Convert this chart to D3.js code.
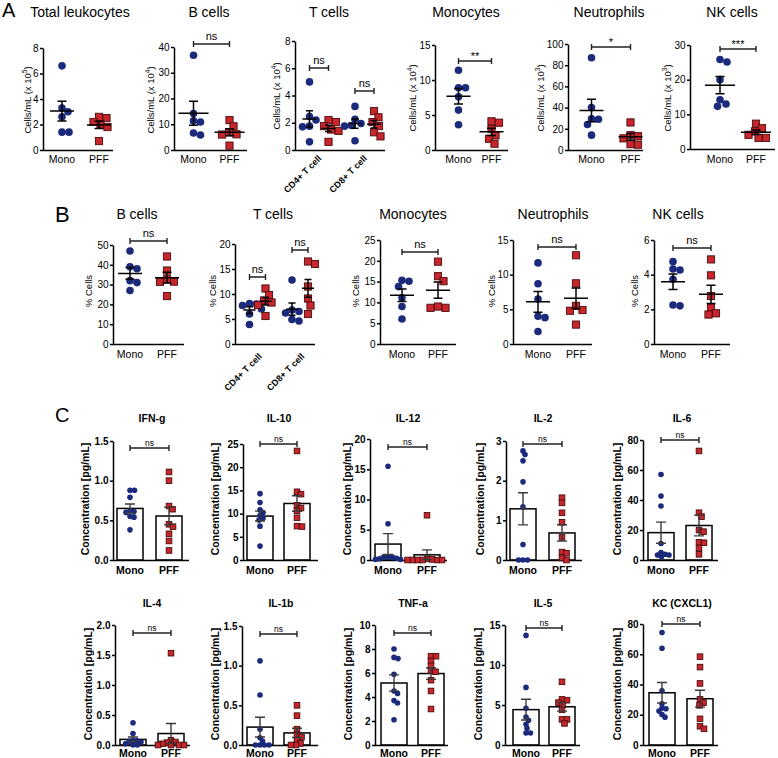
<!DOCTYPE html>
<html><head><meta charset="utf-8">
<script src="https://cdn.jsdelivr.net/npm/d3@7"></script>
<style>body{margin:0;background:#fff}svg{display:block}</style>
</head><body><svg id="c" width="778" height="758"></svg>
<script>
// ---------------- DATA ----------------
const groups = ["Mono", "PFF"];
const cellTypes = ["CD4+ T cell", "CD8+ T cell"];

// Panel A: absolute counts (Cells/mL)
const totalLeuk_Mono = [6.6, 3.3, 3.0, 2.6, 1.4, 1.4];
const totalLeuk_PFF  = [2.6, 2.5, 2.2, 2.0, 1.8, 0.7];
const bAbs_Mono = [36.8, 14.2, 11.3, 10.9, 6.6, 5.8];
const bAbs_PFF  = [11.6, 9.2, 6.9, 6.1, 6.0, 1.7];
const cd4Abs_Mono = [5.0, 2.45, 2.2, 1.75, 1.7, 0.6];
const cd4Abs_PFF  = [2.2, 2.05, 1.75, 1.5, 1.4, 0.6];
const cd8Abs_Mono = [3.2, 2.25, 1.95, 1.8, 1.75, 0.68];
const cd8Abs_PFF  = [2.85, 2.4, 2.05, 1.75, 1.3, 1.0];
const monoAbs_Mono = [11.4, 8.9, 8.9, 7.6, 5.7, 3.6];
const monoAbs_PFF  = [4.1, 3.9, 3.0, 2.1, 1.6, 0.9];
const neutAbs_Mono = [87, 40, 29.5, 29, 24, 14];
const neutAbs_PFF  = [26, 14, 13, 11, 5.5, 5];
const nkAbs_Mono = [25.8, 25.1, 20, 14.2, 13, 12.3];
const nkAbs_PFF  = [7.3, 6.0, 5.1, 4.1, 3.2, 3.2];

// Panel B: % cells
const bPct_Mono = [47, 39, 38, 32, 31, 27];
const bPct_PFF  = [44.2, 37.1, 32.7, 31.5, 31.4, 24.2];
const cd4Pct_Mono = [8.1, 8.0, 7.7, 7.0, 6.0, 3.9];
const cd4Pct_PFF  = [11.1, 9.8, 8.7, 8.3, 7.8, 5.6];
const cd8Pct_Mono = [12.8, 6.8, 6.5, 6.2, 4.9, 4.6];
const cd8Pct_PFF  = [16.5, 16.0, 11.5, 9.1, 7.7, 6.0];
const monoPct_Mono = [15.3, 15.1, 13.8, 11.1, 9.0, 6.0];
const monoPct_PFF  = [19.8, 16.3, 15.1, 9.0, 8.7, 8.7];
const neutPct_Mono = [11.7, 8.7, 6.5, 4.0, 3.8, 1.8];
const neutPct_PFF  = [12.8, 8.75, 5.5, 4.9, 4.8, 2.8];
const nkPct_Mono = [4.75, 4.33, 4.27, 3.73, 2.25, 2.2];
const nkPct_PFF  = [4.88, 3.96, 2.77, 2.1, 1.77, 1.7];

// Panel C: cytokines (pg/mL)
const ifng_Mono = [0.88, 0.88, 0.79, 0.62, 0.61, 0.60, 0.55, 0.54, 0.38];
const ifng_PFF  = [1.11, 1.0, 0.68, 0.64, 0.45, 0.42, 0.33, 0.24, 0.12];
const il10_Mono = [14.3, 12.4, 10.8, 10.2, 9.6, 9.0, 8.6, 7.3, 3.0];
const il10_PFF  = [23.5, 14.7, 14.2, 11.8, 11.2, 10.6, 9.1, 7.3, 7.2];
const il12_Mono = [15.5, 6.0, 0.5, 0.5, 0.5, 0.3, 0.2, 0.1, 0.1];
const il12_PFF  = [7.4, 0.2, 0.1, 0, 0, 0, 0, 0, 0];
const il2_Mono = [2.75, 2.66, 2.5, 1.97, 1.34, 0.39, 0, 0, 0];
const il2_PFF  = [1.57, 1.44, 1.19, 0.95, 0.57, 0.2, 0.17, 0.05, 0];
const il6_Mono = [57, 42.7, 36, 11, 4.9, 3.8, 3.3, 3.3, 2.2];
const il6_PFF  = [72.7, 31.5, 28.9, 20, 18.9, 11.8, 11.5, 8, 3.8];
const il4_Mono = [0.37, 0.19, 0.08, 0.07, 0.06, 0.05, 0.02, 0, 0];
const il4_PFF  = [1.53, 0.08, 0.05, 0.04, 0.02, 0, 0, 0, 0];
const il1b_Mono = [1.06, 0.63, 0.2, 0.09, 0.05, 0, 0, 0, 0];
const il1b_PFF  = [0.5, 0.37, 0.2, 0.12, 0.1, 0.06, 0.02, 0, 0];
const tnfa_Mono = [8.0, 7.3, 7.2, 5.9, 4.5, 4.3, 3.7, 3.5, 2.1];
const tnfa_PFF  = [7.4, 7.4, 7.0, 6.6, 6.2, 6.1, 5.4, 4.5, 3.0];
const il5_Mono = [13.7, 7.2, 4.6, 3.5, 3.1, 2.6, 2.1, 1.5, 1.5];
const il5_PFF  = [7.9, 5.7, 5.6, 5.3, 5.0, 4.4, 3.2, 3.2, 2.7];
const kc_Mono = [74.4, 64, 35.8, 27.3, 24.4, 24.0, 22.4, 20.2, 18.4];
const kc_PFF  = [58.4, 51.5, 40.7, 30.2, 28, 26.2, 17.3, 12.4, 10.7];

// tick label lists
const ticksTotal = [0, 2, 4, 6, 8], ticksBAbs = [0, 10, 20, 30, 40], ticksTAbs = [0, 2, 4, 6, 8];
const ticksMonoAbs = [0, 5, 10, 15], ticksNeutAbs = [0, 20, 40, 60, 80, 100], ticksNkAbs = [0, 10, 20, 30];
const ticksBPct = [0, 10, 20, 30, 40, 50], ticksTPct = [0, 5, 10, 15, 20], ticksMonoPct = [0, 5, 10, 15, 20, 25];
const ticksNeutPct = [0, 5, 10, 15], ticksNkPct = [0, 2, 4, 6];
const ticksIfng = [0, 0.5, 1.0, 1.5], ticksIl10 = [0, 5, 10, 15, 20, 25], ticksIl12 = [0, 5, 10, 15, 20];
const ticksIl2 = [0, 1, 2, 3], ticksIl6 = [0, 20, 40, 60, 80], ticksIl4 = [0, 0.5, 1.0, 1.5, 2.0];
const ticksIl1b = [0, 0.5, 1.0, 1.5], ticksTnfa = [0, 2, 4, 6, 8, 10], ticksIl5 = [0, 5, 10, 15], ticksKc = [0, 20, 40, 60, 80];

// ---------------- DRAWING ----------------
const FONT = "'Liberation Sans', Arial, Helvetica, sans-serif";
const BLUE = "#1c2a7c", RED = "#c6262c", RED_DK = "#4a0c0c", ERR = "#3a3a3a";
const svg = d3.select("#c").attr("font-family", FONT);

function swarm(vals, y, r, fac) {
  const pts = vals.map(v => ({ v, py: y(v), off: 0 }));
  const order = pts.slice().sort((a, b) => b.v - a.v);
  const placed = [], minD = 2 * r * fac;
  for (const p of order) {
    let best = null;
    for (let k = 0; k <= 80 && best === null; k++) {
      const cands = k === 0 ? [0] : [k * 0.5, -k * 0.5];
      for (const c of cands) {
        if (placed.every(q => Math.hypot(q.off - c, q.py - p.py) >= minD)) { best = c; break; }
      }
    }
    p.off = best || 0; placed.push(p);
  }
  return pts;
}

function yAxis(g, y, ticks, fmt, x, fs, bold) {
  const ax = d3.axisLeft(y).tickValues(ticks).tickFormat(fmt).tickSizeInner(3).tickSizeOuter(0).tickPadding(1.5);
  const a = g.append("g").attr("transform", `translate(${x},0)`).call(ax);
  a.select(".domain").attr("stroke", "#000").attr("stroke-width", 1.5);
  a.selectAll(".tick line").attr("stroke", "#000").attr("stroke-width", 1.5);
  a.selectAll(".tick text").attr("font-size", fs).attr("font-family", FONT)
    .attr("font-weight", bold ? "bold" : "normal").attr("fill", "#000");
}

function dots(g, vals, cx, y, group, r, sq, fac) {
  const pts = swarm(vals, y, group === "Mono" ? r : sq / 2 + 0.4, fac);
  if (group === "Mono") {
    g.append("g").selectAll("circle").data(pts).join("circle")
      .attr("cx", d => cx + d.off).attr("cy", d => d.py).attr("r", r).attr("fill", BLUE);
  } else {
    g.append("g").selectAll("rect").data(pts).join("rect")
      .attr("x", d => cx + d.off - sq / 2).attr("y", d => d.py - sq / 2)
      .attr("width", sq).attr("height", sq).attr("fill", RED).attr("stroke", RED_DK).attr("stroke-width", 0.9);
  }
}

function bracket(g, x1, x2, yb, label, fs, dyText) {
  g.append("path").attr("d", `M${x1},${yb - 3}V${yb + 3}M${x1},${yb}H${x2}M${x2},${yb - 3}V${yb + 3}`)
    .attr("stroke", "#222").attr("stroke-width", 1.4).attr("fill", "none");
  g.append("text").attr("x", (x1 + x2) / 2).attr("y", yb + dyText).attr("text-anchor", "middle")
    .attr("font-size", fs).text(label);
}

function yLabel(g, x, yc, text, exp, fs, bold) {
  const t = g.append("text").attr("transform", `translate(${x},${yc}) rotate(-90)`)
    .attr("text-anchor", "middle").attr("font-size", fs).attr("font-weight", bold ? "bold" : "normal");
  if (exp) {
    t.append("tspan").text(text);
    t.append("tspan").attr("dy", -4).attr("font-size", fs * 0.7).text(exp);
    t.append("tspan").attr("dy", 4).text(")");
  } else t.text(text);
}

// Scatter panels (A and B)
function scatterPanel(p) {
  const g = svg.append("g");
  const y = d3.scaleLinear().domain([0, p.max]).range([p.bottom, p.top]);
  yAxis(g, y, p.ticks, d3.format("d"), p.ax, 10, false);
  g.append("line").attr("x1", p.ax).attr("x2", p.end).attr("y1", p.bottom + 0.5).attr("y2", p.bottom + 0.5)
    .attr("stroke", "#000").attr("stroke-width", 1.5);
  g.append("text").attr("x", p.tx).attr("y", p.ty).attr("text-anchor", "middle").attr("font-size", 14).text(p.title);
  yLabel(g, p.lx, p.ly, p.ylab, p.exp, 9.5, false);

  const outer = d3.scalePoint().domain(p.cats.map(c => c.label)).range(p.catRange);
  const inner = d3.scalePoint().domain(groups).range(p.innerRange);
  p.cats.forEach(c => {
    const xc = outer(c.label);
    groups.forEach((gr, gi) => {
      const vals = c.data[gi], cx = xc + inner(gr);
      dots(g, vals, cx, y, gr, 3.8, 7.2, 0.92);
      const m = d3.mean(vals), s = d3.deviation(vals) / Math.sqrt(vals.length);
      const hw = p.meanHW, cw = p.capHW;
      g.append("path").attr("d",
        `M${cx - hw},${y(m)}H${cx + hw}M${cx},${y(m - s)}V${y(m + s)}M${cx - cw},${y(m - s)}H${cx + cw}M${cx - cw},${y(m + s)}H${cx + cw}`)
        .attr("stroke", "#000").attr("stroke-width", 1.5).attr("fill", "none");
    });
    if (c.sig) bracket(g, xc + inner("Mono"), xc + inner("PFF"), c.sigY, c.sig, 11, c.sig === "ns" ? -4 : -1);
    if (p.cats.length > 1) {
      g.append("text").attr("transform", `translate(${xc + p.rotDx},${p.rotY}) rotate(-45)`)
        .attr("text-anchor", "end").attr("font-size", 9).attr("font-weight", "bold").text(c.label);
    } else {
      groups.forEach(gr => g.append("text").attr("x", xc + inner(gr)).attr("y", p.labY)
        .attr("text-anchor", "middle").attr("font-size", 10.5).text(gr));
    }
  });
}

// Bar panels (C)
function barPanel(p) {
  const g = svg.append("g");
  const y = d3.scaleLinear().domain([0, p.max]).range([p.bottom, p.top]);
  const fmt = p.ticks.some(t => t % 1 !== 0) ? d3.format(".1f") : d3.format("d");
  yAxis(g, y, p.ticks, fmt, p.ax, 10, true);
  g.append("text").attr("x", p.tx).attr("y", p.ty).attr("text-anchor", "middle")
    .attr("font-size", 10.5).attr("font-weight", "bold").text(p.title);
  yLabel(g, p.lx, p.ly, "Concentration [pg/mL]", null, 10.5, true);
  const x = d3.scalePoint().domain(groups).range(p.xr);
  const bw = 26;
  const stats = groups.map((gr, gi) => {
    const vals = p.data[gi];
    return { gr, vals, m: d3.mean(vals), s: d3.deviation(vals) / Math.sqrt(vals.length) };
  });
  stats.forEach(st => {
    g.append("rect").attr("x", x(st.gr) - bw / 2).attr("y", y(st.m)).attr("width", bw)
      .attr("height", p.bottom - y(st.m)).attr("fill", "#fff").attr("stroke", "#000").attr("stroke-width", 1.5);
  });
  g.append("line").attr("x1", p.ax).attr("x2", p.end).attr("y1", p.bottom + 0.5).attr("y2", p.bottom + 0.5)
    .attr("stroke", "#000").attr("stroke-width", 1.5);
  stats.forEach(st => {
    const cx = x(st.gr);
    dots(g, st.vals, cx, y, st.gr, 2.8, 5.6, 0.72);
    const lo = Math.max(0, st.m - st.s), hi = st.m + st.s, cw = 5;
    g.append("path").attr("d",
      `M${cx},${y(lo)}V${y(hi)}M${cx - cw},${y(lo)}H${cx + cw}M${cx - cw},${y(hi)}H${cx + cw}`)
      .attr("stroke", ERR).attr("stroke-width", 1.4).attr("fill", "none");
    g.append("text").attr("x", cx).attr("y", p.labY).attr("text-anchor", "middle")
      .attr("font-size", 10.5).attr("font-weight", "bold").text(st.gr);
  });
  bracket(g, x("Mono"), x("PFF"), p.sigY, "ns", 8.5, -2.5);
}

// panel letters
[["A", 2, 17, 20], ["B", 55, 222, 22], ["C", 55, 422, 20]].forEach(([t, x, y, fs]) =>
  svg.append("text").attr("x", x).attr("y", y).attr("font-size", fs).text(t));

const simple = (data, sig, sigY) => [{ label: "", data, sig, sigY }];
const A = { bottom: 150, ty: 17, labY: 163, meanHW: 12, capHW: 4.5, innerRange: [-18, 18] };
const panelsA = [
  { title: "Total leukocytes", tx: 80, ylab: "Cells/mL (x 10", exp: "5", lx: 31, ly: 100, ax: 43, end: 113, top: 48, max: 8, ticks: ticksTotal,
    cats: simple([totalLeuk_Mono, totalLeuk_PFF], null, 0), catRange: [80.5, 80.5], innerRange: [-18.5, 18.5] },
  { title: "B cells", tx: 209, ylab: "Cells/mL (x 10", exp: "4", lx: 154, ly: 100, ax: 174, end: 247, top: 47, max: 40, ticks: ticksBAbs,
    cats: simple([bAbs_Mono, bAbs_PFF], "ns", 44), catRange: [211.5, 211.5], meanHW: 15 },
  { title: "T cells", tx: 329, ylab: "Cells/mL (x 10", exp: "4", lx: 280, ly: 96, ax: 295, end: 385, top: 41, max: 8, ticks: ticksTAbs,
    cats: [{ label: cellTypes[0], data: [cd4Abs_Mono, cd4Abs_PFF], sig: "ns", sigY: 68 },
           { label: cellTypes[1], data: [cd8Abs_Mono, cd8Abs_PFF], sig: "ns", sigY: 91 }],
    catRange: [319, 364.5], innerRange: [-9.5, 9.5], meanHW: 7, capHW: 3.5, rotDx: 3, rotY: 159 },
  { title: "Monocytes", tx: 466, ylab: "Cells/mL (x 10", exp: "4", lx: 416, ly: 98, ax: 435, end: 508, top: 45, max: 15, ticks: ticksMonoAbs,
    cats: simple([monoAbs_Mono, monoAbs_PFF], "**", 61), catRange: [475, 475], innerRange: [-16.5, 16.5] },
  { title: "Neutrophils", tx: 609, ylab: "Cells/mL (x 10", exp: "3", lx: 544, ly: 98, ax: 568, end: 643, top: 44, max: 100, ticks: ticksNeutAbs,
    cats: simple([neutAbs_Mono, neutAbs_PFF], "*", 47), catRange: [611, 611], innerRange: [-19.5, 19.5] },
  { title: "NK cells", tx: 732, ylab: "Cells/mL (x 10", exp: "3", lx: 671, ly: 98, ax: 690, end: 775, top: 45, bottom: 149, max: 30, ticks: ticksNkAbs,
    cats: simple([nkAbs_Mono, nkAbs_PFF], "***", 49), catRange: [738, 738], meanHW: 15 },
];
panelsA.forEach(p => scatterPanel(Object.assign({}, A, p)));

const B = { bottom: 344, ty: 219, labY: 358, meanHW: 12, capHW: 4.5, ylab: "% Cells", ly: 291 };
const panelsB = [
  { title: "B cells", tx: 137, lx: 92, ax: 113, end: 184, top: 245, max: 50, ticks: ticksBPct,
    cats: simple([bPct_Mono, bPct_PFF], "ns", 241), catRange: [148.5, 148.5], innerRange: [-18.5, 18.5] },
  { title: "T cells", tx: 273, lx: 216, ax: 235, end: 315, top: 244, max: 20, ticks: ticksTPct,
    cats: [{ label: cellTypes[0], data: [cd4Pct_Mono, cd4Pct_PFF], sig: "ns", sigY: 277 },
           { label: cellTypes[1], data: [cd8Pct_Mono, cd8Pct_PFF], sig: "ns", sigY: 250 }],
    catRange: [257.5, 300], innerRange: [-8, 8], meanHW: 6, capHW: 3.5, rotDx: 5, rotY: 357 },
  { title: "Monocytes", tx: 413, lx: 359, ax: 380, end: 456, top: 240, max: 25, ticks: ticksMonoPct,
    cats: simple([monoPct_Mono, monoPct_PFF], "ns", 252), catRange: [420, 420], innerRange: [-18, 18] },
  { title: "Neutrophils", tx: 553, lx: 495, ax: 513, end: 592, top: 240, max: 15, ticks: ticksNeutPct,
    cats: simple([neutPct_Mono, neutPct_PFF], "ns", 247), catRange: [557, 557], innerRange: [-19, 19] },
  { title: "NK cells", tx: 678, lx: 638, ax: 654, end: 730, top: 240, max: 6, ticks: ticksNkPct,
    cats: simple([nkPct_Mono, nkPct_PFF], "ns", 248), catRange: [692, 692], innerRange: [-19, 19] },
];
panelsB.forEach(p => scatterPanel(Object.assign({}, B, p)));

const C1 = { bottom: 560, ty: 422, labY: 574, ly: 499 };
const C2 = { bottom: 745, ty: 607, labY: 757, ly: 684 };
const panelsC = [
  Object.assign({}, C1, { title: "IFN-g", tx: 152, lx: 89, ax: 113, end: 189, top: 441, max: 1.5, ticks: ticksIfng, data: [ifng_Mono, ifng_PFF], xr: [130, 169], sigY: 448 }),
  Object.assign({}, C1, { title: "IL-10", tx: 279, lx: 219, ax: 243, end: 318, top: 444, max: 25, ticks: ticksIl10, data: [il10_Mono, il10_PFF], xr: [260, 297], sigY: 444 }),
  Object.assign({}, C1, { title: "IL-12", tx: 408, lx: 351, ax: 370, end: 447, top: 439, max: 20, ticks: ticksIl12, data: [il12_Mono, il12_PFF], xr: [388, 427], sigY: 447 }),
  Object.assign({}, C1, { title: "IL-2", tx: 543, lx: 484, ax: 506, end: 582, top: 441, max: 3, ticks: ticksIl2, data: [il2_Mono, il2_PFF], xr: [523, 562], sigY: 444 }),
  Object.assign({}, C1, { title: "IL-6", tx: 682, lx: 621, ax: 643, end: 718, top: 440, max: 80, ticks: ticksIl6, data: [il6_Mono, il6_PFF], xr: [661, 699], sigY: 440 }),
  Object.assign({}, C2, { title: "IL-4", tx: 152, lx: 92, ax: 115, end: 190, top: 625, max: 2.0, ticks: ticksIl4, data: [il4_Mono, il4_PFF], xr: [133, 171], sigY: 633 }),
  Object.assign({}, C2, { title: "IL-1b", tx: 281, lx: 219, ax: 242, end: 318, top: 626, max: 1.5, ticks: ticksIl1b, data: [il1b_Mono, il1b_PFF], xr: [260, 297], sigY: 634 }),
  Object.assign({}, C2, { title: "TNF-a", tx: 413, lx: 352, ax: 375, end: 448, top: 625, max: 10, ticks: ticksTnfa, data: [tnfa_Mono, tnfa_PFF], xr: [394, 431], sigY: 633 }),
  Object.assign({}, C2, { title: "IL-5", tx: 543, lx: 482, ax: 505, end: 580, top: 625, max: 15, ticks: ticksIl5, data: [il5_Mono, il5_PFF], xr: [526, 562], sigY: 628 }),
  Object.assign({}, C2, { title: "KC (CXCL1)", tx: 682, lx: 621, ax: 643, end: 718, top: 624, max: 80, ticks: ticksKc, data: [kc_Mono, kc_PFF], xr: [662, 700], sigY: 624 }),
];
panelsC.forEach(barPanel);
</script></body></html>
